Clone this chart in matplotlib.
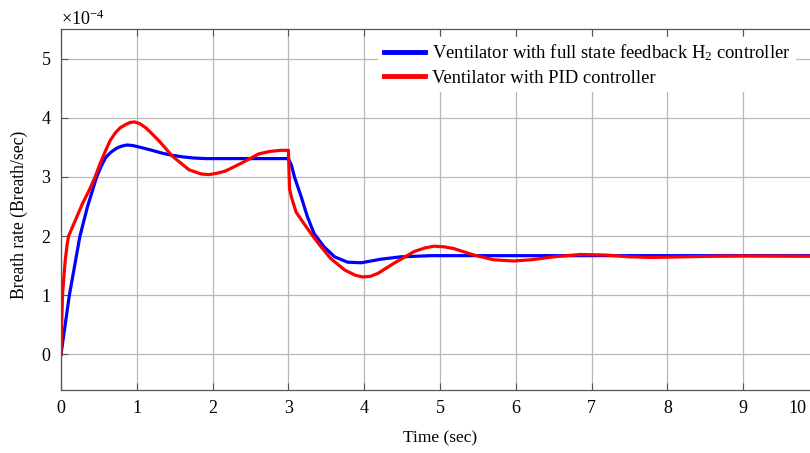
import numpy as np
import matplotlib.pyplot as plt
from matplotlib.transforms import ScaledTranslation

plt.rcParams['font.family'] = ['Liberation Serif', 'DejaVu Serif']
plt.rcParams['mathtext.fontset'] = 'custom'
plt.rcParams['mathtext.rm'] = 'Liberation Serif'
plt.rcParams['mathtext.it'] = 'Liberation Serif:italic'

# breath rate, in units of 1e-4 breath/sec
t_h2 = [0, 0.11, 0.18, 0.25, 0.35, 0.47, 0.53, 0.59, 0.66, 0.74, 0.8, 0.87,
        0.95, 1.08, 1.2, 1.34, 1.45, 1.6, 1.75, 1.91, 2.5, 3.0, 3.04, 3.08,
        3.17, 3.25, 3.34, 3.47, 3.61, 3.78, 3.96, 4.22, 4.48, 4.88, 6, 8, 10]
rate_h2 = [0, 1.0, 1.5, 2.0, 2.5, 3.0, 3.18, 3.33, 3.42, 3.49, 3.52, 3.54,
           3.53, 3.49, 3.45, 3.40, 3.37, 3.34, 3.32, 3.31, 3.31, 3.31, 3.2, 3.0,
           2.66, 2.33, 2.04, 1.82, 1.65, 1.56, 1.55, 1.61, 1.65, 1.67, 1.67,
           1.67, 1.67]

t_pid = [0, 0.01, 0.02, 0.04, 0.057, 0.08, 0.1, 0.15, 0.21, 0.28, 0.37, 0.45,
         0.52, 0.59, 0.65, 0.72, 0.78, 0.86, 0.91, 0.97, 1.04, 1.12, 1.2, 1.3,
         1.47, 1.69, 1.85, 1.95, 2.05, 2.17, 2.39, 2.61, 2.75, 2.9, 3.0, 3.015,
         3.04, 3.1, 3.19, 3.3, 3.43, 3.56, 3.74, 3.88, 3.98, 4.08, 4.18, 4.39,
         4.66, 4.8, 4.92, 5.05, 5.18, 5.45, 5.71, 5.97, 6.2, 6.5, 6.85, 7.2,
         7.5, 7.8, 8.2, 8.6, 9.0, 10]
rate_pid = [0, 0.55, 1.0, 1.35, 1.6, 1.85, 2.0, 2.15, 2.33, 2.54, 2.77, 3.0,
            3.24, 3.45, 3.62, 3.75, 3.83, 3.89, 3.92, 3.93, 3.9, 3.83, 3.73, 3.6,
            3.35, 3.12, 3.05, 3.04, 3.06, 3.1, 3.24, 3.39, 3.43, 3.45, 3.45, 2.8,
            2.66, 2.41, 2.24, 2.04, 1.82, 1.62, 1.43, 1.34, 1.31, 1.32, 1.37,
            1.54, 1.74, 1.8, 1.83, 1.82, 1.79, 1.68, 1.6, 1.58, 1.6, 1.65, 1.69,
            1.68, 1.65, 1.64, 1.65, 1.66, 1.665, 1.66]

x_ticks = np.arange(0, 11)
y_ticks = np.arange(0, 6)

fig = plt.figure(figsize=(8.1, 4.53), dpi=100)
ax = fig.add_axes([61 / 810, 1 - 390 / 453, 758 / 810, 361 / 453])

ax.plot(t_h2, np.array(rate_h2) * 1e-4, color='#0000ff', lw=2.3,
        solid_joinstyle='round',
        label='Ventilator with full state feedback H$_\\mathrm{2}$ controller')
ax.plot(t_pid, np.array(rate_pid) * 1e-4, color='#ff0000', lw=2.3,
        solid_joinstyle='round', label='Ventilator with PID controller')

ax.set_xlim(0, 10)
ax.set_ylim(-0.6e-4, 5.5e-4)
ax.set_xticks(x_ticks)
ax.set_yticks(y_ticks * 1e-4)
ax.ticklabel_format(axis='y', style='sci', scilimits=(0, 0), useMathText=True)
ax.grid(True, color='#b8b8b8', lw=0.9)
ax.tick_params(direction='in', length=5, labelsize=13, top=True,
               color='#555555', pad=7)
for s in ax.spines.values():
    s.set_color('#555555')
    s.set_linewidth(0.9)
ax.yaxis.get_offset_text().set_fontsize(13)

# keep the last x label inside the figure
last = ax.get_xticklabels()[-1]
last.set_transform(last.get_transform() + ScaledTranslation(-0.22, 0, fig.dpi_scale_trans))

ax.set_xlabel('Time (sec)', fontsize=12.5, labelpad=10)
ax.set_ylabel('Breath rate (Breath/sec)', fontsize=12.7)
ax.yaxis.set_label_coords(-0.044, 0.485)

leg = ax.legend(loc='upper left', bbox_to_anchor=(378 / 810, 1 - 37 / 453),
                bbox_transform=fig.transFigure, fontsize=13.4, frameon=True,
                fancybox=False, framealpha=1, edgecolor='none',
                handlelength=2.2, handletextpad=0.4, labelspacing=0.34,
                borderaxespad=0, borderpad=0.3)
for h in leg.get_lines():
    h.set_linewidth(3.5)

fig.savefig('out.png', dpi=100)
